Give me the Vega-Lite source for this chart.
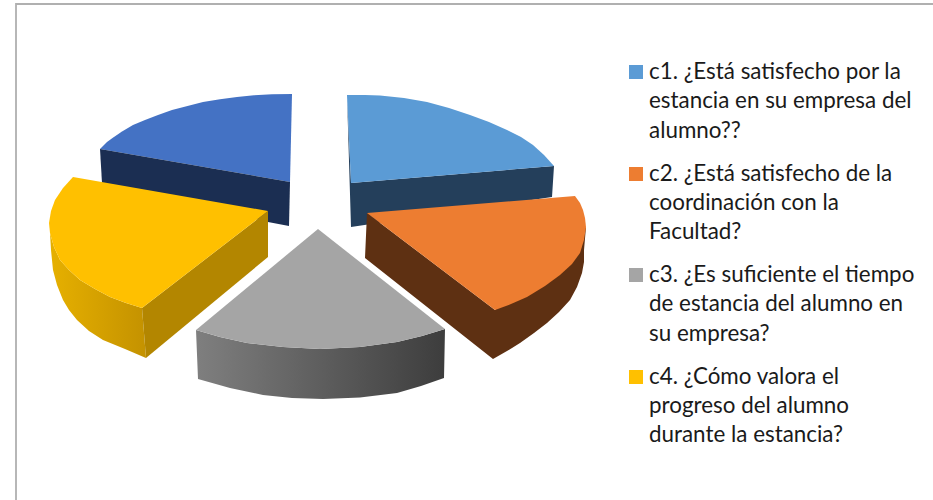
{"$schema":"https://vega.github.io/schema/vega-lite/v6.json","width":933,"height":500,"padding":0,"autosize":{"type":"none"},"background":"white","view":{"stroke":null},
"datasets":{"shapes":[
{"part":"c5 top","color":"#4472c4","i":1,"x":292,"y":94},{"part":"c5 top","color":"#4472c4","i":2,"x":272,"y":94.3},{"part":"c5 top","color":"#4472c4","i":3,"x":254,"y":95.3},{"part":"c5 top","color":"#4472c4","i":4,"x":237,"y":97},{"part":"c5 top","color":"#4472c4","i":5,"x":220,"y":99.3},{"part":"c5 top","color":"#4472c4","i":6,"x":203,"y":102},{"part":"c5 top","color":"#4472c4","i":7,"x":187.5,"y":106},{"part":"c5 top","color":"#4472c4","i":8,"x":172,"y":110},{"part":"c5 top","color":"#4472c4","i":9,"x":158,"y":115},{"part":"c5 top","color":"#4472c4","i":10,"x":145,"y":120},{"part":"c5 top","color":"#4472c4","i":11,"x":133,"y":125},{"part":"c5 top","color":"#4472c4","i":12,"x":122,"y":131.5},{"part":"c5 top","color":"#4472c4","i":13,"x":112.5,"y":138},{"part":"c5 top","color":"#4472c4","i":14,"x":107,"y":142},{"part":"c5 top","color":"#4472c4","i":15,"x":100,"y":149},{"part":"c5 top","color":"#4472c4","i":16,"x":290,"y":182},
{"part":"c5 side","color":"#1b2e52","i":1,"x":100,"y":149},{"part":"c5 side","color":"#1b2e52","i":2,"x":290,"y":182},{"part":"c5 side","color":"#1b2e52","i":3,"x":289,"y":226},{"part":"c5 side","color":"#1b2e52","i":4,"x":268,"y":222},{"part":"c5 side","color":"#1b2e52","i":5,"x":102,"y":183},
{"part":"c1 side","color":"#243f5b","i":1,"x":554,"y":166},{"part":"c1 side","color":"#243f5b","i":2,"x":351,"y":183},{"part":"c1 side","color":"#243f5b","i":3,"x":347,"y":95},{"part":"c1 side","color":"#243f5b","i":4,"x":351,"y":227},{"part":"c1 side","color":"#243f5b","i":5,"x":552,"y":197},
{"part":"c1 top","color":"#5b9bd5","i":1,"x":347,"y":95},{"part":"c1 top","color":"#5b9bd5","i":2,"x":365,"y":95},{"part":"c1 top","color":"#5b9bd5","i":3,"x":380,"y":95.5},{"part":"c1 top","color":"#5b9bd5","i":4,"x":404,"y":98},{"part":"c1 top","color":"#5b9bd5","i":5,"x":427,"y":102},{"part":"c1 top","color":"#5b9bd5","i":6,"x":449,"y":108},{"part":"c1 top","color":"#5b9bd5","i":7,"x":470,"y":115},{"part":"c1 top","color":"#5b9bd5","i":8,"x":489,"y":122},{"part":"c1 top","color":"#5b9bd5","i":9,"x":507,"y":130},{"part":"c1 top","color":"#5b9bd5","i":10,"x":521,"y":137},{"part":"c1 top","color":"#5b9bd5","i":11,"x":533,"y":145},{"part":"c1 top","color":"#5b9bd5","i":12,"x":544,"y":155},{"part":"c1 top","color":"#5b9bd5","i":13,"x":554,"y":166},{"part":"c1 top","color":"#5b9bd5","i":14,"x":351,"y":183},
{"part":"c2 side","color":"#5e3012","i":1,"x":367,"y":213},{"part":"c2 side","color":"#5e3012","i":2,"x":495,"y":310},{"part":"c2 side","color":"#5e3012","i":3,"x":586,"y":227},{"part":"c2 side","color":"#5e3012","i":4,"x":584,"y":250},{"part":"c2 side","color":"#5e3012","i":5,"x":584,"y":262},{"part":"c2 side","color":"#5e3012","i":6,"x":582,"y":273},{"part":"c2 side","color":"#5e3012","i":7,"x":577,"y":287},{"part":"c2 side","color":"#5e3012","i":8,"x":570,"y":300},{"part":"c2 side","color":"#5e3012","i":9,"x":559,"y":312},{"part":"c2 side","color":"#5e3012","i":10,"x":547,"y":323},{"part":"c2 side","color":"#5e3012","i":11,"x":534,"y":333},{"part":"c2 side","color":"#5e3012","i":12,"x":520,"y":343},{"part":"c2 side","color":"#5e3012","i":13,"x":507,"y":351},{"part":"c2 side","color":"#5e3012","i":14,"x":493,"y":359},{"part":"c2 side","color":"#5e3012","i":15,"x":365,"y":258},
{"part":"c2 top","color":"#ed7d31","i":1,"x":367,"y":213},{"part":"c2 top","color":"#ed7d31","i":2,"x":575,"y":196},{"part":"c2 top","color":"#ed7d31","i":3,"x":580,"y":203},{"part":"c2 top","color":"#ed7d31","i":4,"x":583,"y":210},{"part":"c2 top","color":"#ed7d31","i":5,"x":585,"y":218},{"part":"c2 top","color":"#ed7d31","i":6,"x":586,"y":227},{"part":"c2 top","color":"#ed7d31","i":7,"x":584,"y":240},{"part":"c2 top","color":"#ed7d31","i":8,"x":580,"y":253},{"part":"c2 top","color":"#ed7d31","i":9,"x":572,"y":264},{"part":"c2 top","color":"#ed7d31","i":10,"x":560,"y":275},{"part":"c2 top","color":"#ed7d31","i":11,"x":545,"y":286},{"part":"c2 top","color":"#ed7d31","i":12,"x":527,"y":297},{"part":"c2 top","color":"#ed7d31","i":13,"x":511,"y":304},{"part":"c2 top","color":"#ed7d31","i":14,"x":495,"y":310},
{"part":"c3 top","color":"#a5a5a5","i":1,"x":318,"y":229},{"part":"c3 top","color":"#a5a5a5","i":2,"x":445,"y":329},{"part":"c3 top","color":"#a5a5a5","i":3,"x":422,"y":336},{"part":"c3 top","color":"#a5a5a5","i":4,"x":397,"y":342},{"part":"c3 top","color":"#a5a5a5","i":5,"x":360,"y":347},{"part":"c3 top","color":"#a5a5a5","i":6,"x":320,"y":349},{"part":"c3 top","color":"#a5a5a5","i":7,"x":283,"y":347},{"part":"c3 top","color":"#a5a5a5","i":8,"x":247,"y":343},{"part":"c3 top","color":"#a5a5a5","i":9,"x":220,"y":337},{"part":"c3 top","color":"#a5a5a5","i":10,"x":196,"y":330},
{"part":"c4 inner","color":"#b38600","i":1,"x":268,"y":211},{"part":"c4 inner","color":"#b38600","i":2,"x":142,"y":308},{"part":"c4 inner","color":"#b38600","i":3,"x":146,"y":358},{"part":"c4 inner","color":"#b38600","i":4,"x":268,"y":257},
{"part":"c4 top","color":"#ffc000","i":1,"x":73,"y":177},{"part":"c4 top","color":"#ffc000","i":2,"x":268,"y":211},{"part":"c4 top","color":"#ffc000","i":3,"x":142,"y":308},{"part":"c4 top","color":"#ffc000","i":4,"x":126,"y":303},{"part":"c4 top","color":"#ffc000","i":5,"x":110,"y":297},{"part":"c4 top","color":"#ffc000","i":6,"x":95,"y":289},{"part":"c4 top","color":"#ffc000","i":7,"x":80,"y":280},{"part":"c4 top","color":"#ffc000","i":8,"x":69,"y":270},{"part":"c4 top","color":"#ffc000","i":9,"x":60,"y":260},{"part":"c4 top","color":"#ffc000","i":10,"x":54,"y":247},{"part":"c4 top","color":"#ffc000","i":11,"x":50,"y":233},{"part":"c4 top","color":"#ffc000","i":12,"x":49,"y":223},{"part":"c4 top","color":"#ffc000","i":13,"x":51,"y":211},{"part":"c4 top","color":"#ffc000","i":14,"x":55,"y":200},{"part":"c4 top","color":"#ffc000","i":15,"x":63,"y":188}
],
"grayOuter":[{"i":1,"x":196,"y":330},{"i":2,"x":220,"y":337},{"i":3,"x":247,"y":343},{"i":4,"x":283,"y":347},{"i":5,"x":320,"y":349},{"i":6,"x":360,"y":347},{"i":7,"x":397,"y":342},{"i":8,"x":422,"y":336},{"i":9,"x":445,"y":329},{"i":10,"x":444,"y":378},{"i":11,"x":421,"y":386},{"i":12,"x":397,"y":393},{"i":13,"x":360,"y":397.5},{"i":14,"x":323,"y":399},{"i":15,"x":292,"y":398},{"i":16,"x":263,"y":395},{"i":17,"x":230,"y":388},{"i":18,"x":198,"y":379}],
"yellowOuter":[{"i":1,"x":50,"y":233},{"i":2,"x":54,"y":247},{"i":3,"x":60,"y":260},{"i":4,"x":69,"y":270},{"i":5,"x":80,"y":280},{"i":6,"x":95,"y":289},{"i":7,"x":110,"y":297},{"i":8,"x":126,"y":303},{"i":9,"x":142,"y":308},{"i":10,"x":146,"y":358},{"i":11,"x":125,"y":349},{"i":12,"x":103,"y":340},{"i":13,"x":89,"y":331},{"i":14,"x":77,"y":320},{"i":15,"x":69,"y":310},{"i":16,"x":63,"y":300},{"i":17,"x":57,"y":285},{"i":18,"x":53,"y":270},{"i":19,"x":51,"y":250}],
"frame":[{"i":1,"x":16,"y":500},{"i":2,"x":16,"y":4},{"i":3,"x":933,"y":4}],
"squares":[{"k":"c1","color":"#5b9bd5","x":636,"y":72},{"k":"c2","color":"#ed7d31","x":636,"y":174},{"k":"c3","color":"#a5a5a5","x":636,"y":275},{"k":"c4","color":"#ffc000","x":636,"y":377}],
"labels":[{"t":"c1. ¿Está satisfecho por la","x":649,"y":79},{"t":"estancia en su empresa del","x":649,"y":108},{"t":"alumno??","x":649,"y":138},{"t":"c2. ¿Está satisfecho de la","x":649,"y":181},{"t":"coordinación con la","x":649,"y":210},{"t":"Facultad?","x":649,"y":239},{"t":"c3. ¿Es suficiente el tiempo","x":649,"y":282},{"t":"de estancia del alumno en","x":649,"y":311},{"t":"su empresa?","x":649,"y":341},{"t":"c4. ¿Cómo valora el","x":649,"y":384},{"t":"progreso del alumno","x":649,"y":413},{"t":"durante la estancia?","x":649,"y":442}]},
"encoding":{"x":{"field":"x","type":"quantitative","scale":{"domain":[0,933]},"axis":null},"y":{"field":"y","type":"quantitative","scale":{"domain":[0,500],"reverse":true},"axis":null}},
"layer":[
{"data":{"name":"frame"},"mark":{"type":"line","stroke":"#b0b0b0","strokeWidth":1.8},"encoding":{"order":{"field":"i"}}},
{"data":{"name":"grayOuter"},"mark":{"type":"line","strokeWidth":0,"fill":{"gradient":"linear","x1":0,"x2":1,"y1":0,"y2":0,"stops":[{"offset":0,"color":"#7f7f7f"},{"offset":1,"color":"#3d3d3d"}]}},"encoding":{"order":{"field":"i"}}},
{"data":{"name":"yellowOuter"},"mark":{"type":"line","strokeWidth":0,"fill":{"gradient":"linear","x1":0,"x2":1,"y1":0,"y2":0,"stops":[{"offset":0,"color":"#e6b000"},{"offset":1,"color":"#c49200"}]}},"encoding":{"order":{"field":"i"}}},
{"data":{"name":"shapes"},"mark":{"type":"line","strokeWidth":0},"encoding":{"detail":{"field":"part"},"fill":{"field":"color","type":"nominal","scale":null},"order":{"field":"i"}}},
{"data":{"name":"squares"},"mark":{"type":"point","shape":"square","filled":true,"size":196,"opacity":1},"encoding":{"color":{"field":"color","type":"nominal","scale":null}}},
{"data":{"name":"labels"},"mark":{"type":"text","align":"left","baseline":"alphabetic","font":"Lato","fontSize":22.4,"fill":"#1a1a1a"},"encoding":{"text":{"field":"t"}}}
]}
